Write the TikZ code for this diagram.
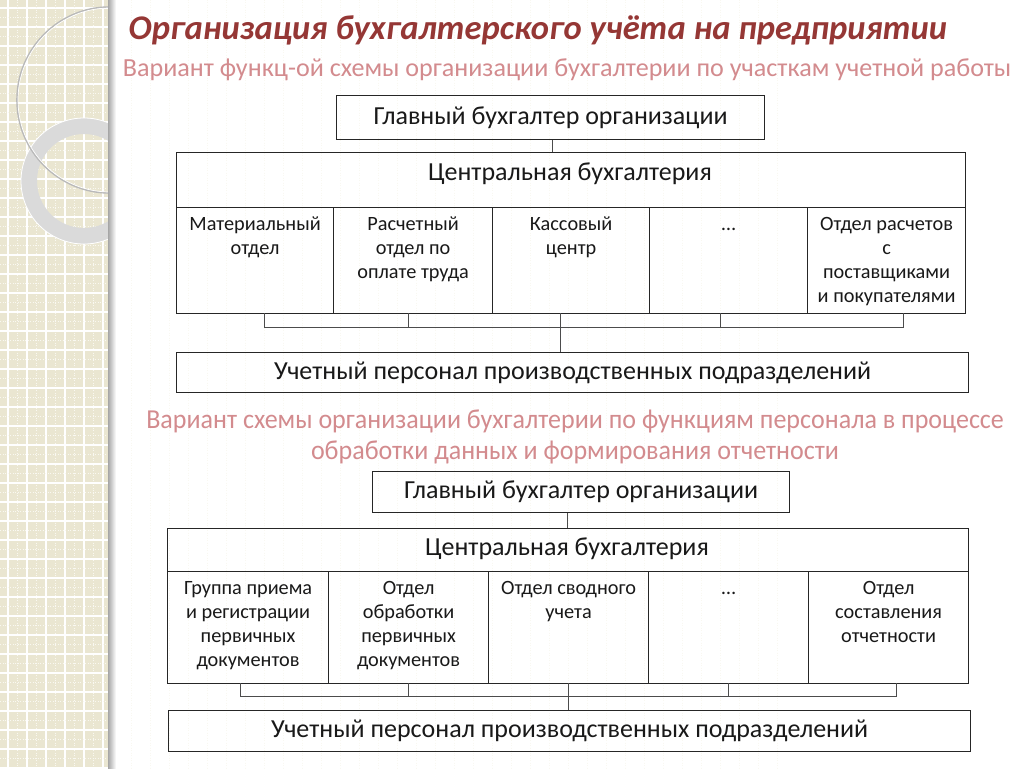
\documentclass[tikz,border=0pt]{standalone}
\usepackage{fontspec}
\setmainfont{Carlito}
\newfontfamily\condfont[FakeStretch=0.95]{Carlito}
\usetikzlibrary{calc}
\definecolor{titlered}{HTML}{953735}
\definecolor{subpink}{HTML}{D38B8E}
\definecolor{stripc}{HTML}{EAE6D1}
\definecolor{ringc}{HTML}{DADADA}
\newcommand{\fl}{\rule{0pt}{15pt}}
\tikzset{
  x=1pt,y=-1pt,
  box/.style={draw=black!85,line width=1.2pt,inner sep=0pt,anchor=north west},
  cell/.style={draw=black!85,line width=1.2pt,inner sep=0pt,anchor=north west},
  bigtext/.style={font=\fontsize{26}{30}\selectfont,text=black!90},
  celltext/.style={font=\fontsize{20.3}{24}\selectfont,text=black!90,align=center,anchor=north,inner sep=0pt},
  link/.style={draw=black!70,line width=0.9pt},
}
\begin{document}
\begin{tikzpicture}
\useasboundingbox (0,0) rectangle (1024,768);
\fill[white] (0,0) rectangle (1024,768);
% left decorative strip
\fill[stripc] (0,0) rectangle (113,768);
\foreach \i in {0,...,40} {
  \draw[white,line width=1.4pt] (\i*19+8,0) -- ++(0,768);
  \draw[white,line width=1.4pt] (0,\i*19+8) -- ++(113,0);
  \draw[white!70!stripc,line width=0.5pt,dotted] (\i*19+17.5,0) -- ++(0,768);
  \draw[white!70!stripc,line width=0.5pt,dotted] (0,\i*19+17.5) -- ++(113,0);
}
\begin{scope}
\clip (0,0) rectangle (113,768);
\draw[ringc,line width=16pt] (84,181) circle[radius=55];
\draw[white,line width=0.8pt] (84,181) circle[radius=63];
\draw[gray!55,line width=1.6pt] (110,100) circle[radius=93];
\draw[white,line width=0.7pt] (110,100) circle[radius=92];
\end{scope}
\shade[left color=gray!70,right color=white] (108,0) rectangle (116,768);

% titles
\node[font=\fontsize{34.6}{40}\bfseries\itshape\selectfont,text=titlered] (title) at (538,30) {Организация бухгалтерского учёта на предприятии};
\node[font=\fontsize{26.1}{30}\selectfont,text=subpink] (sub1) at (567,70) {Вариант функц-ой схемы организации бухгалтерии по участкам учетной работы};
\node[font=\condfont\fontsize{27.4}{31}\selectfont,text=subpink,align=center] (sub2) at (575,437) {Вариант схемы организации бухгалтерии по функциям персонала в процессе\\обработки данных и формирования отчетности};

% ===== diagram 1 =====
\node[box,bigtext,minimum width=428pt,minimum height=44pt] (gb1) at (336,95) {Главный бухгалтер организации};
\node[box,minimum width=789pt,minimum height=55pt] (cb1) at (176,152) {};
\node[bigtext,inner sep=0pt] (cb1t) at (570,174) {Центральная бухгалтерия};
\node[cell,minimum width=157pt,minimum height=106pt] (c11) at (176,207) {};
\node[cell,minimum width=159pt,minimum height=106pt] (c12) at (333,207) {};
\node[cell,minimum width=157pt,minimum height=106pt] (c13) at (492,207) {};
\node[cell,minimum width=158pt,minimum height=106pt] (c14) at (649,207) {};
\node[cell,minimum width=158pt,minimum height=106pt] (c15) at (807,207) {};
\node[celltext] (c11t) at ($(c11.north)+(0,8)$) {\fl Материальный\\отдел};
\node[celltext] (c12t) at ($(c12.north)+(0,8)$) {\fl Расчетный\\отдел по\\оплате труда};
\node[celltext] (c13t) at ($(c13.north)+(0,8)$) {\fl Кассовый\\центр};
\node[celltext] (c14t) at ($(c14.north)+(0,8)$) {\fl\dots};
\node[celltext] (c15t) at ($(c15.north)+(0,8)$) {\fl Отдел расчетов\\с\\поставщиками\\и покупателями};
\node[box,bigtext,minimum width=792pt,minimum height=40pt] (up1) at (176,352) {Учетный персонал производственных подразделений};
\coordinate (t11) at (264,313);
\coordinate (t12) at (408,313);
\coordinate (t13) at (560,313);
\coordinate (t14) at (720,313);
\coordinate (t15) at (903,313);
\coordinate (b11) at (264,327);
\coordinate (b15) at (903,327);
\draw[link] (gb1.south -| 552,0) -- (cb1.north -| 552,0);
\draw[link] (t11) -- (b11) -- (b15) -- (t15);
\draw[link] (t12) -- (t12 |- b11);
\draw[link] (t14) -- (t14 |- b11);
\draw[link] (t13) -- (up1.north -| t13);

% ===== diagram 2 =====
\node[box,bigtext,minimum width=417pt,minimum height=41pt] (gb2) at (372,471) {Главный бухгалтер организации};
\node[box,minimum width=801pt,minimum height=43pt] (cb2) at (167,528) {};
\node[bigtext,inner sep=0pt] (cb2t) at (567,549) {Центральная бухгалтерия};
\node[cell,minimum width=161pt,minimum height=112pt] (c21) at (167,571) {};
\node[cell,minimum width=160pt,minimum height=112pt] (c22) at (328,571) {};
\node[cell,minimum width=160pt,minimum height=112pt] (c23) at (488,571) {};
\node[cell,minimum width=160pt,minimum height=112pt] (c24) at (648,571) {};
\node[cell,minimum width=160pt,minimum height=112pt] (c25) at (808,571) {};
\node[celltext] (c21t) at ($(c21.north)+(0,8.5)$) {\fl Группа приема\\и регистрации\\первичных\\документов};
\node[celltext] (c22t) at ($(c22.north)+(0,8.5)$) {\fl Отдел\\обработки\\первичных\\документов};
\node[celltext] (c23t) at ($(c23.north)+(0,8.5)$) {\fl Отдел сводного\\учета};
\node[celltext] (c24t) at ($(c24.north)+(0,8.5)$) {\fl\dots};
\node[celltext] (c25t) at ($(c25.north)+(0,8.5)$) {\fl Отдел\\составления\\отчетности};
\node[box,bigtext,minimum width=802pt,minimum height=41pt] (up2) at (168,710) {Учетный персонал производственных подразделений};
\coordinate (t21) at (240,683);
\coordinate (t22) at (408,683);
\coordinate (t23) at (568,683);
\coordinate (t24) at (728,683);
\coordinate (t25) at (896,683);
\coordinate (b21) at (240,696);
\coordinate (b25) at (896,696);
\draw[link] (gb2.south -| 567,0) -- (cb2.north -| 567,0);
\draw[link] (t21) -- (b21) -- (b25) -- (t25);
\draw[link] (t22) -- (t22 |- b21);
\draw[link] (t24) -- (t24 |- b21);
\draw[link] (t23) -- (up2.north -| t23);
\end{tikzpicture}
\end{document}
